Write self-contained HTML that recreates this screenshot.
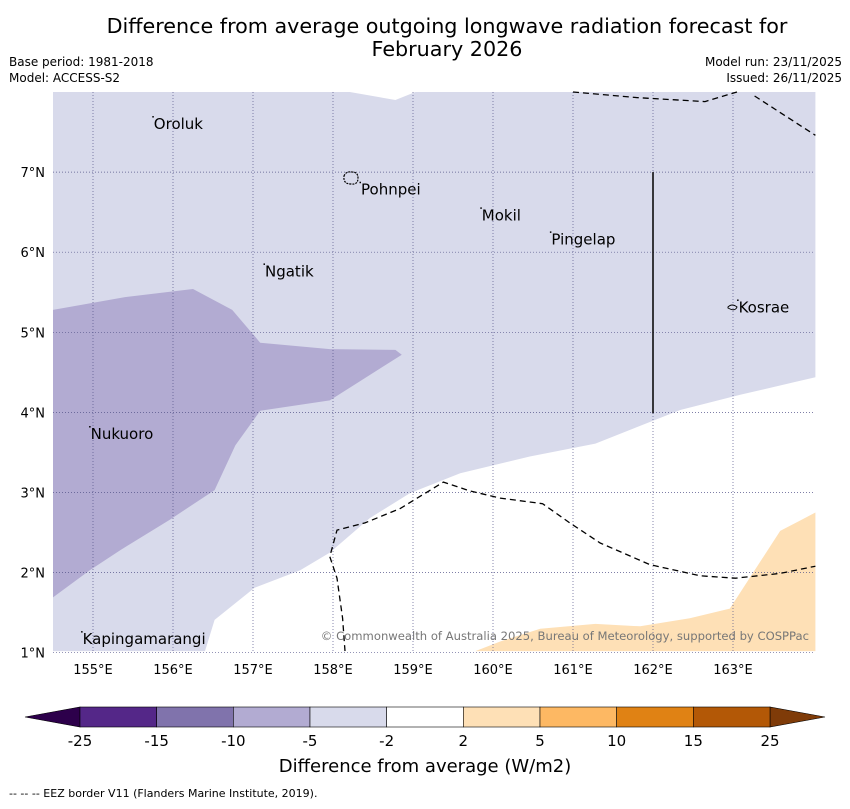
<!DOCTYPE html>
<html><head><meta charset="utf-8"><style>
body{margin:0;background:#fff;font-family:"Liberation Sans","DejaVu Sans",sans-serif}
</style></head><body>
<svg width="850" height="804" xmlns="http://www.w3.org/2000/svg" font-family="DejaVu Sans, Liberation Sans, sans-serif">
<text x="447" y="33" font-size="20.7" text-anchor="middle">Difference from average outgoing longwave radiation forecast for</text>
<text x="447" y="56" font-size="20.7" text-anchor="middle">February 2026</text>
<text x="9" y="66" font-size="12">Base period: 1981-2018</text>
<text x="9" y="82" font-size="12">Model: ACCESS-S2</text>
<text x="842" y="66" font-size="12" text-anchor="end">Model run: 23/11/2025</text>
<text x="842" y="82" font-size="12" text-anchor="end">Issued: 26/11/2025</text>
<g id="map"></g>
<g id="cbar"></g>
<text x="425" y="772" font-size="18" text-anchor="middle">Difference from average (W/m2)</text>
<text x="9" y="797" font-size="11">--  --  -- EEZ border V11 (Flanders Marine Institute, 2019).</text>
</svg>
<script>
const lonTicks=[155,156,157,158,159,160,161,162,163];
const latTicks=[1,2,3,4,5,6,7];
const lightRegion=[[154.5,8],[158.21,8],[158.78,7.9],[159.03,8],[164.03,8],[164.03,4.44],[163.09,4.22],[162.34,4.03],[161.28,3.61],[160.46,3.45],[159.59,3.24],[158.96,2.99],[158.46,2.68],[157.96,2.25],[157.59,2.03],[157.02,1.81],[156.52,1.41],[156.4,1.02],[154.5,1.02]];
const mediumRegion=[[154.5,5.28],[155.4,5.44],[156.25,5.54],[156.74,5.28],[157.09,4.87],[157.96,4.79],[158.78,4.78],[158.86,4.72],[157.96,4.15],[157.09,4.02],[156.78,3.59],[156.52,3.03],[155.96,2.66],[155.34,2.28],[154.96,2.03],[154.5,1.69]];
const orangeRegion=[[159.78,1.02],[160.09,1.14],[160.59,1.3],[161.28,1.36],[161.84,1.33],[162.46,1.43],[162.96,1.55],[163.59,2.52],[163.84,2.65],[164.03,2.75],[164.03,1.02]];
const eezTop=[[161.0,8],[161.8,7.93],[162.65,7.88],[163.05,8]];
const eezTop2=[[163.27,7.95],[164.03,7.46]];
const eezSouth=[[158.15,1.02],[158.12,1.43],[158.05,1.93],[157.96,2.2],[158.05,2.53],[158.4,2.62],[158.84,2.8],[159.38,3.13],[159.71,3.02],[160.09,2.93],[160.62,2.86],[160.96,2.62],[161.34,2.37],[161.96,2.1],[162.59,1.96],[163.03,1.93],[163.59,1.99],[164.03,2.08]];
const places=["Oroluk","Pohnpei","Mokil","Pingelap","Ngatik","Kosrae","Nukuoro","Kapingamarangi"];
const placeLon=[155.76,158.35,159.86,160.73,157.15,163.07,154.97,154.87];
const placeLat=[7.6,6.78,6.46,6.16,5.76,5.31,3.73,1.17];
const cbLevels=["-25","-15","-10","-5","-2","2","5","10","15","25"];
const cbColors=["#542788","#8073ac","#b2abd2","#d8daeb","#ffffff","#fee0b6","#fdb863","#e08214","#b35806"];
const NS="http://www.w3.org/2000/svg";
const X=l=>53+(l-154.5)*80, Y=a=>92+(8-a)*80.1;
const map=document.getElementById('map');
function mk(t,at,p){const e=document.createElementNS(NS,t);for(const k in at)e.setAttribute(k,at[k]);(p||map).appendChild(e);return e;}
const pts=a=>a.map(p=>X(p[0]).toFixed(1)+','+Y(p[1]).toFixed(1)).join(' ');
let e;
e=mk('rect',{x:53,y:92,width:762,height:561,fill:'#fff'});


e=mk('polygon',{points:pts(lightRegion),fill:'#d8daeb'});


e=mk('polygon',{points:pts(mediumRegion),fill:'#b2abd2'});


e=mk('polygon',{points:pts(orangeRegion),fill:'#fee0b6'});


lonTicks.forEach(l=>{
 e=mk('line',{x1:X(l),x2:X(l),y1:92,y2:653,stroke:'#55558a','stroke-width':0.7,'stroke-dasharray':'1,2'});
 
 
 e=mk('text',{x:X(l),y:674,'font-size':13,'text-anchor':'middle'});e.textContent=l+'°E';
 
 
});
latTicks.forEach(a=>{
 e=mk('line',{x1:53,x2:815,y1:Y(a),y2:Y(a),stroke:'#55558a','stroke-width':0.7,'stroke-dasharray':'1,2'});
 
 
 e=mk('text',{x:45,y:Y(a)+5,'font-size':13,'text-anchor':'end'});e.textContent=a+'°N';
 
 
});
[eezTop,eezTop2,eezSouth].forEach(s=>{
 e=mk('polyline',{points:pts(s),fill:'none',stroke:'#000','stroke-width':1.3,'stroke-dasharray':'6,4'});
 
 
});
e=mk('line',{x1:X(162),x2:X(162),y1:Y(7),y2:Y(3.99),stroke:'#000','stroke-width':1.5});


e=mk('path',{d:'M344,176 q2,-5 8,-4 q6,0 6,6 q0,7 -7,6 q-8,0 -7,-8z',fill:'none',stroke:'#000','stroke-width':1.2,'stroke-dasharray':'2,1'});


e=mk('path',{d:'M728,307 q4,-4 9,0 q-2,5 -9,1z',fill:'none',stroke:'#000','stroke-width':1});


places.forEach((n,i)=>{
 e=mk('rect',{x:X(placeLon[i])-1.5,y:Y(placeLat[i])-8,width:1.5,height:1.5,fill:'#000'});
 
 
 e=mk('text',{x:X(placeLon[i]),y:Y(placeLat[i])+5,'font-size':15});e.textContent=n;
 
 
});
e=mk('text',{x:809,y:640,'font-size':11.6,'text-anchor':'end',fill:'#777'});
e.textContent='© Commonwealth of Australia 2025, Bureau of Meteorology, supported by COSPPac';


const cb=document.getElementById('cbar');
const cx0=80,cx1=770,cy=707,ch=20,cw=(cx1-cx0)/cbColors.length;
e=mk('polygon',{points:`${cx0},${cy} ${cx0},${cy+ch} 25,${cy+ch/2}`,fill:'#2d004b',stroke:'#000','stroke-width':0.6},cb);


e=mk('polygon',{points:`${cx1},${cy} ${cx1},${cy+ch} 825,${cy+ch/2}`,fill:'#7f3b08',stroke:'#000','stroke-width':0.6},cb);


cbColors.forEach((c,i)=>{
 e=mk('rect',{x:cx0+i*cw,y:cy,width:cw,height:ch,fill:c,stroke:'#000','stroke-width':0.6},cb);
 
 
});
cbLevels.forEach((t,i)=>{
 e=mk('text',{x:cx0+i*cw,y:746,'font-size':15,'text-anchor':'middle'},cb);e.textContent=t;
 
 
});
</script>
</body></html>
